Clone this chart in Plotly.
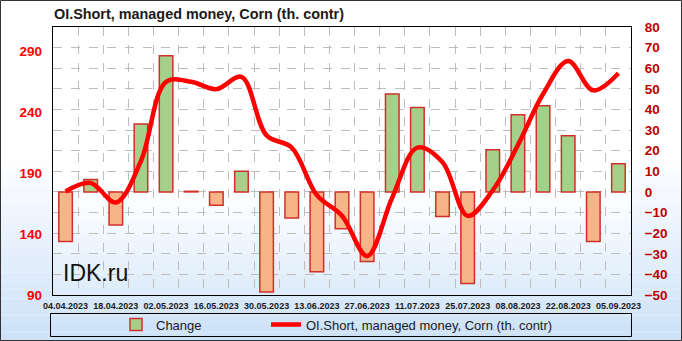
import plotly.graph_objects as go

# ---------------- data ----------------
dates = ["2023-04-04", "2023-04-11", "2023-04-18", "2023-04-25", "2023-05-02",
         "2023-05-09", "2023-05-16", "2023-05-23", "2023-05-30", "2023-06-06",
         "2023-06-13", "2023-06-20", "2023-06-27", "2023-07-04", "2023-07-11",
         "2023-07-18", "2023-07-25", "2023-08-01", "2023-08-08", "2023-08-15",
         "2023-08-22", "2023-08-29", "2023-09-05"]
change = [-24, 6, -16, 33, 66, 0.3, -6.5, 10, -48.5, -12.7, -38.7, -17.9, -33.8,
          47.5, 41, -11.9, -44.4, 20.5, 37.4, 41.8, 27.3, -24.1, 13.7]
oi_short = [175, 182, 166, 200, 265, 265, 259, 269, 221, 211, 172, 155, 122,
            170, 211, 199, 155, 176, 213, 255, 282, 258, 272]
title_text = "OI.Short, managed money, Corn (th. contr)"
bar_name = "Change"
line_name = "OI.Short, managed money, Corn (th. contr)"

# ---------------- geometry helpers ----------------
W, H = 682, 341
ML, MR, MT, MB = 53, 51, 27, 46
PW, PH = W - ML - MR, H - MT - MB
DAY = 86400000


def px2x(px):
    return (px - ML) / PW


def px2y(py):
    return (H - MB - py) / PH


def lerp_color(c1, c2, t):
    a = [int(c1[i:i + 2], 16) for i in (1, 3, 5)]
    b = [int(c2[i:i + 2], 16) for i in (1, 3, 5)]
    return "rgb(%d,%d,%d)" % tuple(round(a[k] + (b[k] - a[k]) * t) for k in range(3))


FONT = "Liberation Sans"
pos_vals = [v if v >= 0 else None for v in change]
neg_vals = [v if v < 0 else None for v in change]

fig = go.Figure()
common_bar = dict(x=dates, width=0.54 * 7 * DAY, yaxis="y", xaxis="x",
                  hoverinfo="x+y")
fig.add_trace(go.Bar(y=pos_vals, name=bar_name, legend="legend", legendgroup="chg",
                     marker=dict(color="#A6CF8A", line=dict(color="#D0302A", width=1.5)),
                     **common_bar))
fig.add_trace(go.Bar(y=neg_vals, name=bar_name, legend="legend", legendgroup="chg",
                     showlegend=False,
                     marker=dict(color="#F6B487", line=dict(color="#D0302A", width=1.5)),
                     **common_bar))
fig.add_trace(go.Scatter(x=dates, y=oi_short, name=line_name, yaxis="y2", legend="legend2",
                         mode="lines", line=dict(color="#FF0000", width=4.5,
                                                 shape="spline", smoothing=1.0)))

# ---------------- background gradients ----------------
shapes = []
N = 40
for k in range(N):
    y0 = H * k / N
    y1 = H * (k + 1) / N
    t = (y0 + y1) / 2 / H
    tt = max(0.0, (t - 0.45) / 0.55)
    shapes.append(dict(type="rect", xref="paper", yref="paper", layer="below",
                       x0=px2x(0), x1=px2x(W), y0=px2y(y1), y1=px2y(y0),
                       line=dict(width=0), fillcolor=lerp_color("#FFFFFF", "#CCE1F7", tt)))
for k in range(N):
    y0 = MT + PH * k / N
    y1 = MT + PH * (k + 1) / N
    t = ((y0 + y1) / 2 - MT) / PH
    tt = max(0.0, (t - 0.62) / 0.38)
    shapes.append(dict(type="rect", xref="paper", yref="paper", layer="below",
                       x0=0, x1=1, y0=px2y(y1), y1=px2y(y0),
                       line=dict(width=0), fillcolor=lerp_color("#FFFFFF", "#DDEBFA", tt)))
# legend box
shapes.append(dict(type="rect", xref="paper", yref="paper", layer="below",
                   x0=px2x(50.5), x1=px2x(631.5), y0=px2y(336.5), y1=px2y(313.5),
                   line=dict(color="#000000", width=1), fillcolor="rgba(0,0,0,0)"))
# outer frame
shapes.append(dict(type="rect", xref="paper", yref="paper", layer="above",
                   x0=px2x(0.5), x1=px2x(W - 0.5), y0=px2y(H - 0.5), y1=px2y(0.5),
                   line=dict(color="#333333", width=1), fillcolor="rgba(0,0,0,0)"))

grid = "#BDBDBD"
fig.update_layout(
    width=W, height=H,
    margin=dict(l=ML, r=MR, t=MT, b=MB, pad=0, autoexpand=False),
    paper_bgcolor="#FFFFFF",
    plot_bgcolor="rgba(0,0,0,0)",
    barmode="overlay",
    title=dict(text=title_text, x=54 / W, xanchor="left", xref="container",
               y=1 - 14 / H, yanchor="middle", yref="container",
               font=dict(family=FONT, size=14.4, color="#1A1A1A", weight="bold")),
    xaxis=dict(type="date", range=["2023-03-31 12:00", "2023-09-08 12:00"],
               tick0="2023-04-04", dtick=14 * DAY, tickformat="%d.%m.%Y",
               tickfont=dict(family=FONT, size=9, color="#1A1A1A", weight="bold"),
               showgrid=False, showline=True, mirror=True, linecolor="#000000",
               linewidth=1, ticks="", ticklabelstandoff=2, automargin=False,
               minor=dict(tick0="2023-04-07 12:00", dtick=7 * DAY, showgrid=True,
                          gridcolor=grid, griddash="dash", gridwidth=1, ticks="")),
    yaxis=dict(side="right", range=[-50, 80], tick0=0, dtick=10,
               showgrid=True, gridcolor=grid, griddash="dash", gridwidth=1,
               zeroline=False, showline=True, mirror=True, linecolor="#000000",
               linewidth=1, ticks="", ticklabelstandoff=10, automargin=False,
               tickfont=dict(family=FONT, size=13.5, color="#C00000", weight="bold")),
    yaxis2=dict(side="left", overlaying="y", range=[90, 310], tick0=90, dtick=50,
                showgrid=False, zeroline=False, ticks="", ticklabelstandoff=10,
                automargin=False,
                tickfont=dict(family=FONT, size=13.5, color="#FF0000", weight="bold")),
    legend=dict(orientation="h", x=116 / W, xanchor="left", xref="container",
                y=1 - 324.5 / H, yanchor="middle", yref="container",
                bgcolor="rgba(0,0,0,0)", borderwidth=0,
                font=dict(family=FONT, size=13, color="#1A1A1A")),
    legend2=dict(orientation="h", x=266 / W, xanchor="left", xref="container",
                 y=1 - 324.5 / H, yanchor="middle", yref="container",
                 bgcolor="rgba(0,0,0,0)", borderwidth=0, itemwidth=30,
                 font=dict(family=FONT, size=13, color="#1A1A1A")),
    shapes=shapes,
    annotations=[dict(text="IDK.ru", xref="paper", yref="paper", x=px2x(61),
                      y=px2y(273), xanchor="left", yanchor="middle", showarrow=False,
                      font=dict(family=FONT, size=23, color="#111111"))],
    showlegend=True,
)

fig.write_html("out.html")
